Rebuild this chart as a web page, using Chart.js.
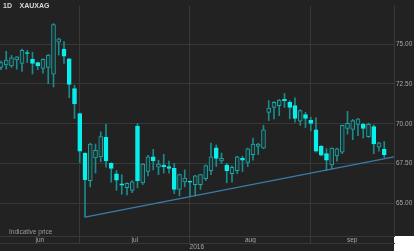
<!DOCTYPE html>
<html>
<head>
<meta charset="utf-8">
<script src="https://cdn.jsdelivr.net/npm/chart.js@4"></script>
<style>
  html, body { margin: 0; padding: 0; background: #ffffff; }
  #wrap { width: 414px; height: 251px; position: relative; }
  canvas { display: block; }
</style>
</head>
<body>
<div id="wrap"><canvas id="c" width="414" height="251"></canvas></div>
<script>
// Trading days (weekdays) 10 Jun 2016 .. 20 Sep 2016, index 0..73
const opens  = [73.53,73.69,73.63,74.00,73.78,74.47,74.04,73.84,73.47,73.53,
                73.12,75.12,74.69,74.08,72.20,70.63,68.16,66.43,67.86,67.92,
                69.14,67.51,66.86,66.22,65.98,65.82,69.86,66.29,67.00,67.92,
                67.27,67.41,67.31,67.20,65.88,66.35,66.39,66.18,66.18,66.55,
                67.06,68.49,67.67,67.41,66.86,67.06,67.82,67.57,68.06,68.57,
                68.47,70.71,71.02,71.14,71.53,71.35,71.14,70.16,70.57,70.22,
                69.61,68.59,68.12,67.41,67.98,68.22,69.71,69.65,69.96,69.96,
                69.18,69.82,68.53,68.39];
const highs  = [73.94,74.55,74.29,74.22,74.69,74.61,74.49,73.88,74.08,74.35,
                76.29,75.37,75.16,74.10,72.41,70.65,68.18,68.78,68.73,69.49,
                69.96,67.55,67.06,66.80,66.29,66.43,70.02,67.51,68.02,68.39,
                67.71,68.08,67.65,67.51,66.84,67.10,66.41,66.76,66.82,67.41,
                68.78,68.67,68.16,67.51,67.35,67.96,67.96,68.47,69.10,68.78,
                69.90,71.45,71.39,71.53,71.90,71.45,71.63,70.88,70.71,70.41,
                70.37,68.63,68.43,68.49,68.47,69.92,70.78,70.27,70.33,70.04,
                70.04,69.92,68.84,68.88];
const lows   = [73.39,73.43,73.53,73.43,73.29,73.84,73.12,73.39,73.18,72.51,
                72.31,74.31,73.78,71.63,70.33,67.57,64.14,66.04,66.90,67.61,
                67.27,66.33,65.82,65.57,65.53,65.67,65.98,66.18,66.73,67.10,
                66.80,66.90,66.90,65.61,65.47,66.04,65.41,65.47,65.88,66.43,
                66.80,67.31,67.51,66.29,66.33,66.86,67.00,67.31,67.71,68.06,
                68.43,70.20,70.31,70.51,71.02,70.31,70.10,69.90,69.76,69.55,
                68.22,67.98,67.06,67.16,67.65,68.12,69.35,69.00,69.25,69.10,
                69.14,68.12,68.27,67.88];
const closes = [73.84,74.00,74.14,74.20,74.61,74.41,73.78,73.63,74.04,74.31,
                76.22,75.33,74.24,72.47,71.24,68.27,66.49,68.73,68.33,69.20,
                67.67,67.20,66.45,66.14,66.25,66.35,66.43,67.47,67.92,67.67,
                67.47,67.31,67.20,65.88,66.80,66.59,66.33,66.73,66.80,67.37,
                67.92,67.82,67.82,67.06,67.27,67.92,67.71,68.43,68.73,68.73,
                69.61,70.98,71.35,71.49,71.43,71.02,70.33,70.82,70.33,70.02,
                68.27,68.02,67.71,68.47,68.43,69.90,70.02,70.20,70.31,69.71,
                69.96,68.73,68.80,68.06];

// Trend line (support) anchor points: trading-day index and ratio value
const trendX = [16, 74.86];
const trendY = [64.14, 67.92];

// Axis labels
const monthStarts  = [15, 36, 59];
const monthCenters = [7.4, 25.5, 47.5, 66.9];
const monthLabels  = ['jun', 'jul', 'aug', 'sep'];
const yearCenters  = [37.3];
const yearLabels   = ['2016'];
const yTicks       = [65, 67.5, 70, 72.5, 75];

const X_MIN = -0.19, X_MAX = 74.86;
const BG = '#222222', GRID = '#383838', TXT = '#a8a8a8';
const UP_FILL = '#1f3232', UP_LINE = '#1fa3a3', DOWN_FILL = '#08f0ee', WICK = '#1a8c8c';
const FONT = "'Liberation Sans', Arial, sans-serif";

const bodies = opens.map((o, i) => ({ x: i, y: [o, closes[i]] }));
const wicks  = lows.map((l, i) => ({ x: i, y: [l, highs[i]] }));
const trend  = trendX.map((x, i) => ({ x: x, y: trendY[i] }));
const isUp = i => closes[i] >= opens[i];

const bgPlugin = {
  id: 'bg',
  beforeDraw(chart) {
    const { ctx, width, height, chartArea } = chart;
    ctx.save();
    ctx.fillStyle = BG;
    ctx.fillRect(0, 0, width, height);
    ctx.fillStyle = '#ffffff';
    ctx.fillRect(chartArea.right, chartArea.bottom, width - chartArea.right, height - chartArea.bottom);
    ctx.restore();
  },
  afterDraw(chart) {
    const { ctx, chartArea } = chart;
    ctx.save();
    ctx.textBaseline = 'middle';
    ctx.textAlign = 'left';
    ctx.fillStyle = '#d8d8d8';
    ctx.font = "bold 7px " + FONT;
    ctx.fillText('1D', 3, 6.5);
    ctx.fillText('XAUXAG', 19.5, 6.5);
    ctx.font = "6.5px " + FONT;
    ctx.fillStyle = '#9a9a9a';
    ctx.fillText('Indicative price', 9, chartArea.bottom - 3.5);
    ctx.restore();
  }
};

new Chart(document.getElementById('c'), {
  type: 'bar',
  data: {
    datasets: [
      {
        type: 'line', data: trend, borderColor: '#3b7cab', borderWidth: 1.2,
        pointRadius: 0, fill: false, order: 0
      },
      {
        data: bodies, grouped: false, barThickness: 4, borderSkipped: false,
        borderWidth: 1, order: 1,
        backgroundColor: c => isUp(c.dataIndex) ? UP_FILL : DOWN_FILL,
        borderColor: c => isUp(c.dataIndex) ? UP_LINE : DOWN_FILL
      },
      {
        data: wicks, grouped: false, barThickness: 1, borderWidth: 0,
        backgroundColor: WICK, order: 2
      }
    ]
  },
  options: {
    responsive: false,
    animation: false,
    devicePixelRatio: 1,
    layout: { padding: 0 },
    plugins: { legend: { display: false }, tooltip: { enabled: false } },
    scales: {
      x: {
        type: 'linear', position: 'bottom', min: X_MIN, max: X_MAX, offset: false,
        grid: { color: GRID, offset: false, drawTicks: true, tickLength: 7 },
        border: { display: true, color: GRID },
        ticks: { display: false },
        afterBuildTicks: s => { s.ticks = monthStarts.map(v => ({ value: v })); },
        afterFit: s => { s.height = 0; }
      },
      xm: {
        type: 'linear', position: 'bottom', min: X_MIN, max: X_MAX, offset: false,
        grid: { display: false, drawTicks: false, tickLength: 0, offset: false },
        border: { display: false },
        ticks: { color: TXT, font: { size: 6.5, family: FONT }, padding: 0, autoSkip: false, maxRotation: 0,
                 callback: (v, i) => monthLabels[i] },
        afterBuildTicks: s => { s.ticks = monthCenters.map(v => ({ value: v })); },
        afterFit: s => { s.height = 7; }
      },
      xy: {
        type: 'linear', position: 'bottom', weight: 1, min: X_MIN, max: X_MAX, offset: false,
        grid: { display: false, drawTicks: false, tickLength: 0, offset: false },
        border: { display: true, color: GRID },
        ticks: { color: TXT, font: { size: 6.5, family: FONT }, padding: 0, autoSkip: false, maxRotation: 0,
                 callback: (v, i) => yearLabels[i] },
        afterBuildTicks: s => { s.ticks = yearCenters.map(v => ({ value: v })); },
        afterFit: s => { s.height = 8; }
      },
      y: {
        type: 'linear', position: 'right', min: 62.95, max: 77.4, beginAtZero: false,
        grid: { color: GRID, drawTicks: false },
        border: { display: true, color: GRID },
        ticks: { color: TXT, font: { size: 6.5, family: FONT }, padding: 2,
                 callback: v => v.toFixed(2) },
        afterBuildTicks: s => { s.ticks = yTicks.map(v => ({ value: v })); },
        afterFit: s => { s.width = 20; }
      }
    }
  },
  plugins: [bgPlugin]
});
</script>
</body>
</html>
